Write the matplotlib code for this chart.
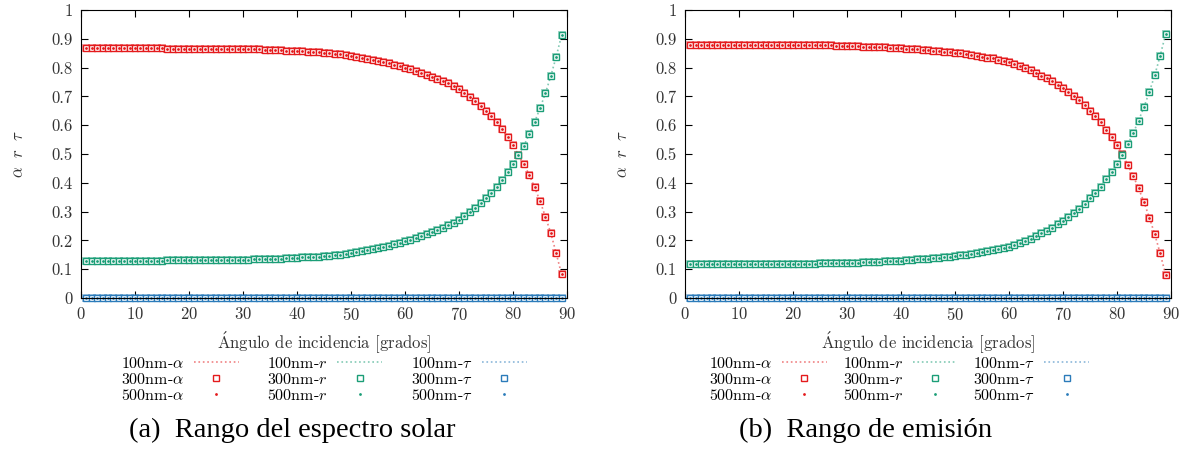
import numpy as np
import matplotlib
matplotlib.use('Agg')
import matplotlib.pyplot as plt

plt.rcParams['font.family'] = 'serif'
plt.rcParams['font.serif'] = ['cmr10']
plt.rcParams['mathtext.fontset'] = 'cm'
plt.rcParams['axes.formatter.use_mathtext'] = True

# angulo de incidencia (grados)
angulos = np.arange(1, 90)

# (a) rango del espectro solar
r_solar = [0.130] * 15 + [0.131] * 7 + [0.132] * 5 + [0.133] * 3 + [
    0.133, 0.134, 0.134, 0.135, 0.135, 0.136, 0.137, 0.138, 0.139, 0.140,
    0.141, 0.142, 0.143, 0.144, 0.146, 0.147, 0.149, 0.151, 0.153, 0.156,
    0.159, 0.162, 0.165, 0.169, 0.173, 0.177, 0.182, 0.186, 0.191, 0.197,
    0.203, 0.209, 0.215, 0.222, 0.229, 0.236, 0.243, 0.252, 0.261, 0.271,
    0.285, 0.299, 0.314, 0.329, 0.346, 0.366, 0.387, 0.410, 0.436, 0.464,
    0.497, 0.529, 0.568, 0.611, 0.659, 0.711, 0.771, 0.838, 0.913]
alpha_solar = [0.867] * 15 + [0.866] * 7 + [0.865] * 5 + [0.864] * 3 + [
    0.864, 0.863, 0.863, 0.862, 0.862, 0.861, 0.860, 0.859, 0.858, 0.857,
    0.856, 0.855, 0.854, 0.853, 0.851, 0.850, 0.848, 0.846, 0.844, 0.841,
    0.838, 0.835, 0.831, 0.827, 0.823, 0.819, 0.815, 0.810, 0.805, 0.800,
    0.794, 0.788, 0.782, 0.775, 0.768, 0.761, 0.754, 0.745, 0.736, 0.726,
    0.712, 0.698, 0.683, 0.667, 0.649, 0.631, 0.610, 0.587, 0.560, 0.530,
    0.497, 0.465, 0.428, 0.384, 0.337, 0.282, 0.225, 0.155, 0.082]
tau_solar = [0.0] * 89

# (b) rango de emision
r_emision = [0.118] * 20 + [
    0.118, 0.119, 0.119, 0.119, 0.120, 0.120, 0.120, 0.121, 0.121, 0.122,
    0.122, 0.123, 0.124, 0.124, 0.125, 0.126, 0.127, 0.128, 0.129, 0.130,
    0.131, 0.132, 0.134, 0.135, 0.137, 0.138, 0.140, 0.142, 0.144, 0.146,
    0.148, 0.150, 0.153, 0.156, 0.159, 0.162, 0.165, 0.169, 0.173, 0.178,
    0.184, 0.190, 0.199, 0.206, 0.215, 0.225, 0.234, 0.244, 0.256, 0.268,
    0.280, 0.294, 0.310, 0.328, 0.346, 0.366, 0.387, 0.412, 0.438, 0.466,
    0.497, 0.534, 0.572, 0.616, 0.663, 0.716, 0.774, 0.841, 0.916]
alpha_emision = [0.879] * 20 + [
    0.879, 0.878, 0.878, 0.878, 0.877, 0.877, 0.877, 0.876, 0.876, 0.875,
    0.875, 0.874, 0.873, 0.873, 0.872, 0.871, 0.870, 0.869, 0.868, 0.867,
    0.866, 0.865, 0.863, 0.862, 0.860, 0.859, 0.857, 0.855, 0.853, 0.851,
    0.849, 0.847, 0.844, 0.841, 0.838, 0.835, 0.832, 0.828, 0.824, 0.819,
    0.813, 0.807, 0.798, 0.791, 0.782, 0.772, 0.763, 0.753, 0.741, 0.729,
    0.717, 0.703, 0.687, 0.669, 0.651, 0.631, 0.610, 0.585, 0.559, 0.531,
    0.499, 0.462, 0.424, 0.381, 0.333, 0.279, 0.221, 0.155, 0.081]
tau_emision = [0.0] * 89

nombres = [r'$\alpha$', r'$r$', r'$\tau$']
colores = ['#e41a1c', '#1b9e77', '#2b7bba']


def dibujar(ax, alpha, r, tau, centro, sep):
    for serie, nombre, c in zip([alpha, r, tau], nombres, colores):
        # 100nm: linea punteada
        ax.plot(angulos, serie, ls=':', lw=1.2, color=c, alpha=0.55,
                clip_on=False, label='100nm-' + nombre)
        # halo claro bajo los cuadrados
        ax.plot(angulos, serie, ls='none', marker='s', ms=6.0, mew=0,
                color=c, alpha=0.4, clip_on=False, label='_nolegend_')
        # 300nm: cuadrados
        ax.plot(angulos, serie, ls='none', marker='s', ms=3.9, mew=1.0,
                mfc='white', mec=c, clip_on=False, label='300nm-' + nombre)
        # 500nm: puntos
        ax.plot(angulos, serie, ls='none', marker='o', ms=2.0, mew=0,
                color=c, clip_on=False, label='500nm-' + nombre)
    ax.set_xlim(0, 90)
    ax.set_ylim(0, 1)
    ax.set_xticks(range(0, 91, 10))
    ax.set_yticks(np.arange(0, 1.01, 0.1))
    ax.set_yticklabels(['0', '0.1', '0.2', '0.3', '0.4', '0.5', '0.6', '0.7',
                        '0.8', '0.9', '1'])
    ax.tick_params(direction='in', top=True, right=True, length=5,
                   labelsize=12, labelcolor='#333333', pad=6)
    ax.set_xlabel(r'$\mathrm{\acute{A}}$ngulo de incidencia [grados]',
                  fontsize=12, color='#333333', labelpad=5)
    ax.set_ylabel(r'$\alpha\ \ r\ \ \tau$', fontsize=12, color='#333333',
                  labelpad=18)
    ax.legend(ncol=3, loc='upper center', bbox_to_anchor=(centro, -0.173),
              frameon=False, markerfirst=False, fontsize=11.5,
              handlelength=2.8, handletextpad=0.6, columnspacing=sep,
              labelspacing=0.06, borderpad=0)


fig = plt.figure(figsize=(11.84, 4.49), dpi=100)
ax1 = fig.add_axes([0.0684, 0.3363, 0.4105, 0.6414])
ax2 = fig.add_axes([0.5785, 0.3363, 0.4105, 0.6414])

dibujar(ax1, alpha_solar, r_solar, tau_solar, 0.5, 1.8)
dibujar(ax2, alpha_emision, r_emision, tau_emision, 0.441, 1.0)

fig.text(0.247, 0.027, '(a)  Rango del espectro solar', ha='center',
         va='baseline', fontsize=20.5, family='Liberation Serif')
fig.text(0.731, 0.027, '(b)  Rango de emisión', ha='center',
         va='baseline', fontsize=20.5, family='Liberation Serif')

fig.savefig('out.png', dpi=100)
